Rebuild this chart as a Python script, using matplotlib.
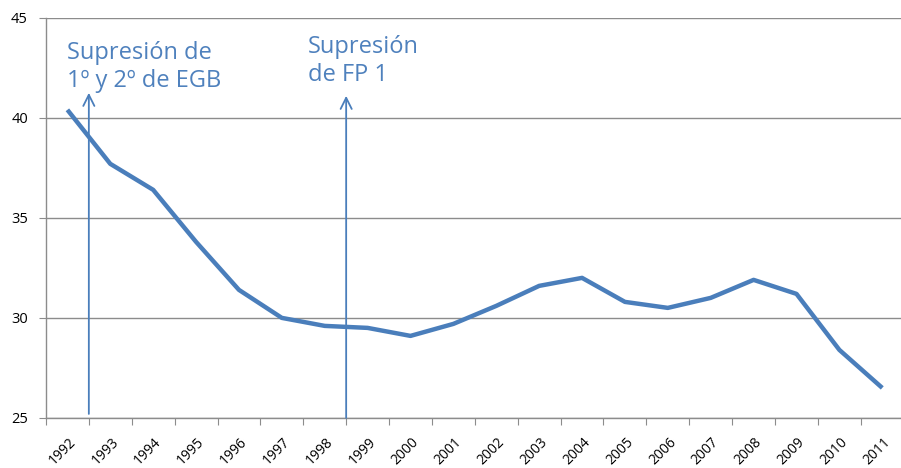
import numpy as np
import matplotlib
matplotlib.use("Agg")
import matplotlib.pyplot as plt

plt.rcParams['font.family'] = ['Open Sans', 'DejaVu Sans']

years = [str(y) for y in range(1992, 2012)]
values = [40.4, 37.7, 36.4, 33.8, 31.4, 30.0, 29.6, 29.5, 29.1, 29.7,
          30.6, 31.6, 32.0, 30.8, 30.5, 31.0, 31.9, 31.2, 28.4, 26.5]

# arrows sit on the category boundaries (between two years)
arrow_pos = [0.5, 6.5]
arrow_bottom = [25.2, 25.0]
arrow_top = [41.25, 41.1]
notes = ["Supresión de\n1º y 2º de EGB", "Supresión\nde FP 1"]
note_x = [-0.02, 5.6]
note_y = [41.55, 41.85]  # baseline of the last line

blue = "#4a7ebb"
grey = "#8c8c8c"

fig = plt.figure(figsize=(9.01, 4.68), dpi=100)
ax = fig.add_axes([0.051, 0.107, 0.952, 0.855])

x = np.arange(len(values))
ax.plot(x, values, color=blue, lw=3.2, solid_capstyle="butt", zorder=3)

for xp, yb, yt in zip(arrow_pos, arrow_bottom, arrow_top):
    ax.annotate("", xy=(xp, yt), xytext=(xp, yb),
                arrowprops=dict(arrowstyle="->", color=blue, lw=1.3,
                                mutation_scale=20, shrinkA=0, shrinkB=0),
                zorder=4)

for t, tx, ty in zip(notes, note_x, note_y):
    ax.text(tx, ty, t, color="#4f81bd", fontsize=17, va="baseline",
            ha="left", linespacing=1.2, zorder=5)

ax.set_xlim(-0.5, len(values) - 0.5)
ax.set_ylim(25, 45)
ax.set_yticks([25, 30, 35, 40, 45])
ax.yaxis.grid(True, color=grey, lw=1)
ax.set_axisbelow(True)

ax.set_xticks(np.arange(-0.5, len(values), 1))
ax.set_xticklabels([])
ax.set_xticks(x + 0.02, minor=True)
ax.set_xticklabels(years, minor=True, rotation=45, ha="right",
                   rotation_mode="anchor", fontsize=10)
ax.tick_params(axis="x", which="major", length=5, color=grey)
ax.tick_params(axis="x", which="minor", length=0, pad=12)
ax.tick_params(axis="y", length=5, color=grey, labelsize=10.5, pad=8)

for s in ["top", "right"]:
    ax.spines[s].set_visible(False)
for s in ["left", "bottom"]:
    ax.spines[s].set_color(grey)
    ax.spines[s].set_linewidth(1)

fig.savefig("out.png", dpi=100)
